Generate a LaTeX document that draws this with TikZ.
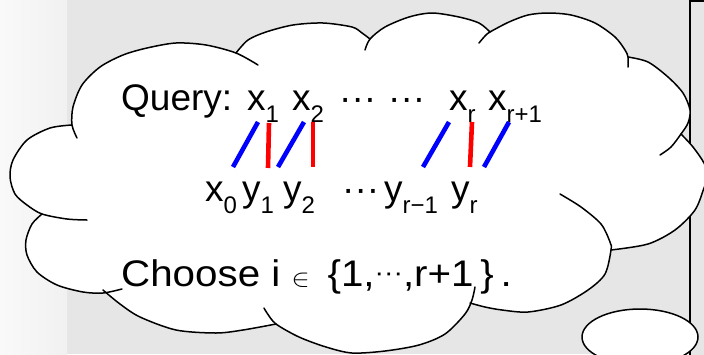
\documentclass[tikz,border=0pt]{standalone}
\usepackage{fontspec}
\setmainfont{Liberation Sans}
\usepackage{tikz}
\definecolor{PanelGray}{RGB}{230,230,230}
\definecolor{StripLight}{RGB}{249,249,249}
\definecolor{StripDark}{RGB}{241,241,241}
\definecolor{LinkBlue}{RGB}{0,0,255}
\definecolor{LinkRed}{RGB}{255,0,0}
% subscript: smaller digits, dropped below the baseline
\newcommand{\lo}[1]{\raisebox{-12pt}{\fontsize{24}{24}\selectfont #1}}

\begin{document}
\begin{tikzpicture}[
  x=1pt, y=-1pt,
  txt/.style={anchor=base west, inner sep=0pt, font=\fontsize{37}{40}\selectfont},
  puff/.style={line width=1.5pt, line cap=round, line join=round},
  link/.style={line width=4.6pt},
  blk/.style={link, LinkBlue},
  rlk/.style={link, LinkRed},
]
  \useasboundingbox (0,0) rectangle (704,354);
  \clip (0,0) rectangle (704,354);

  % ========== background ==========
  \fill[PanelGray] (0,0) rectangle (704,354);
  \shade[left color=StripLight, right color=StripDark] (0,0) rectangle (67,354);
  \draw[line width=1.3pt, fill=PanelGray] (690,1) rectangle (730,380);
  % small bubble of the callout
  \draw[puff, fill=white] (640,337) ellipse [x radius=58, y radius=28];

  % ========== cloud: white body (outer arcs only) ==========
  \fill[white]
    plot[smooth] coordinates {(72,125) (73,107) (82,85) (100,67) (123,55) (147,48) (176,43) (206,45) (236,53)}
    -- plot[smooth] coordinates {(236,53) (248,40) (266,32) (293,25) (323,23) (352,27) (362,33) (370,39)}
    -- plot[smooth] coordinates {(370,39) (385,27) (409,17) (432,13) (459,17) (479,23) (490,32)}
    -- plot[smooth] coordinates {(490,32) (509,22) (528,15) (548,13) (571,15) (595,23) (615,37) (625,50) (628,57)}
    -- plot[smooth] coordinates {(628,57) (648,62) (668,77) (683,93) (690,110) (688,123) (681,134)}
    -- plot[smooth] coordinates {(681,134) (693,147) (704,163) (708,176) (704,188) (695,210) (675,230) (648,244) (611,250)}
    -- plot[smooth] coordinates {(611,250) (605,274) (588,290) (561,305) (528,312) (502,310) (485,307) (470,303)}
    -- plot[smooth] coordinates {(470,303) (465,314) (445,334) (419,345) (385,351) (352,353) (326,347) (299,337) (276,324)}
    -- plot[smooth] coordinates {(276,324) (243,330) (216,333) (176,330) (140,317) (120,304) (106,292)}
    -- plot[smooth] coordinates {(106,292) (83,292) (57,285) (37,272) (27,255) (26,240) (32,224) (42,214)}
    -- plot[smooth] coordinates {(42,214) (27,205) (15,194) (10,177) (13,160) (27,140) (50,128) (72,125)}
    -- cycle;

  % ========== cloud: outline, each puff with its inner tail ==========
  \draw[puff] plot[smooth] coordinates {(77,138) (72,125) (73,107) (82,85) (100,67) (123,55) (147,48) (176,43) (206,45) (236,53) (258,65)};
  \draw[puff] plot[smooth] coordinates {(236,53) (248,40) (266,32) (293,25) (323,23) (352,27) (362,33) (370,39)};
  \draw[puff] plot[smooth] coordinates {(365,50) (370,39) (385,27) (409,17) (432,13) (459,17) (479,23) (490,32)};
  \draw[puff] plot[smooth] coordinates {(479,43) (485,36) (490,32) (509,22) (528,15) (548,13) (571,15) (595,23) (615,37) (625,50) (628,57) (628,67)};
  \draw[puff] plot[smooth] coordinates {(628,57) (648,62) (668,77) (683,93) (690,110) (688,123) (681,134) (671,147) (660,155)};
  \draw[puff] plot[smooth] coordinates {(681,134) (693,147) (704,163) (708,176) (704,188) (695,210) (675,230) (648,244) (611,250)};
  \draw[puff] plot[smooth] coordinates {(560,194) (581,207) (601,224) (610,242) (611,250) (605,274) (588,290) (561,305) (528,312) (502,310) (485,307) (470,303)};
  \draw[puff] plot[smooth] coordinates {(475,287) (472,300) (465,314) (445,334) (419,345) (385,351) (352,353) (326,347) (299,337) (276,324) (267,313) (264,308)};
  \draw[puff] plot[smooth] coordinates {(103,290) (120,304) (140,317) (176,330) (216,333) (243,330) (276,324)};
  \draw[puff] plot[smooth] coordinates {(42,214) (32,224) (26,240) (27,255) (37,272) (57,285) (83,292) (103,293) (122,289)};
  \draw[puff] plot[smooth] coordinates {(72,125) (50,128) (27,140) (13,160) (10,177) (15,194) (27,205) (42,214) (67,219) (87,220)};

  % ========== query row ==========
  \node[txt] (qry)   at (121,110) {Query:};
  \node[txt] (x1)    at (247,110) {x\lo{1}};
  \node[txt] (x2)    at (292,110) {x\lo{2}};
  \node[txt] (dotsA) at (339,110) {···};
  \node[txt] (dotsB) at (388,110) {···};
  \node[txt] (xr)    at (449,110) {x\lo{r}};
  \node[txt] (xr1)   at (488,110) {x\lo{r+1}};

  % ========== answer row ==========
  \node[txt] (x0)    at (205,201) {x\lo{0}};
  \node[txt] (y1)    at (242,201) {y\lo{1}};
  \node[txt] (y2)    at (283,201) {y\lo{2}};
  \node[txt] (dotsC) at (342,201) {···};
  \node[txt] (yr1)   at (384,201) {y\lo{r−1}};
  \node[txt] (yr)    at (451,201) {y\lo{r}};

  % stretched a little: the original face runs wider than Arial here
  \node[txt] (pick)  at (121,286)
    {\scalebox{1.09}[1]{Choose i {\fontsize{38}{38}\selectfont$\in$}\, \{1,\raisebox{5pt}{\fontsize{26}{26}\selectfont···},r+1\,\}\,.}};

  % ========== links between the rows ==========
  \coordinate (B1t) at (258,122); \coordinate (B1b) at (233,167);
  \coordinate (R1t) at (269,123); \coordinate (R1b) at (268,168);
  \coordinate (B2t) at (304,122); \coordinate (B2b) at (278,167);
  \coordinate (R2t) at (313,122); \coordinate (R2b) at (313,167);
  \coordinate (B3t) at (449,122); \coordinate (B3b) at (423,167);
  \coordinate (R3t) at (472,122); \coordinate (R3b) at (470,167);
  \coordinate (B4t) at (509,122); \coordinate (B4b) at (484,167);
  \draw[blk] (B1t) -- (B1b);
  \draw[rlk] (R1t) -- (R1b);
  \draw[blk] (B2t) -- (B2b);
  \draw[rlk] (R2t) -- (R2b);
  \draw[blk] (B3t) -- (B3b);
  \draw[rlk] (R3t) -- (R3b);
  \draw[blk] (B4t) -- (B4b);
\end{tikzpicture}
\end{document}
